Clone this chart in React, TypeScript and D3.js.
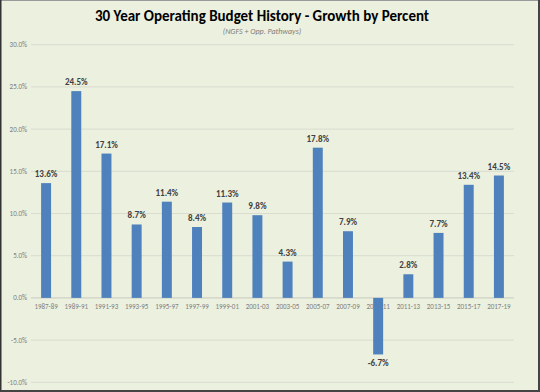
import React from "react";
import * as d3 from "d3";

const categories = ["1987-89","1989-91","1991-93","1993-95","1995-97","1997-99","1999-01","2001-03","2003-05","2005-07","2007-09","2009-11","2011-13","2013-15","2015-17","2017-19"];
const values = [13.6, 24.5, 17.1, 8.7, 11.4, 8.4, 11.3, 9.8, 4.3, 17.8, 7.9, -6.7, 2.8, 7.7, 13.4, 14.5];
const yTicks = [30, 25, 20, 15, 10, 5, 0, -5, -10];
const title = "30 Year Operating Budget History - Growth by Percent";
const subtitle = "(NGFS + Opp. Pathways)";

export default function App() {
  const W = 540, H = 392;
  const left = 31, right = 514, top = 44.7, bottom = 382.3;
  const x = d3.scaleBand<string>().domain(categories).range([left, right]).paddingInner(0.67).paddingOuter(0.335);
  const y = d3.scaleLinear().domain([-10, 30]).range([bottom, top]);
  const font = "Carlito, 'Liberation Sans', Arial, sans-serif";
  return (
    <svg width={W} height={H} style={{ position: "absolute", left: 0, top: 0 }}>
      <rect x={0} y={0} width={W} height={H} fill="#ebf0df" />
      <rect x={0.5} y={0.5} width={W - 1.5} height={H - 1.5} fill="none" stroke="#9a9a9a" strokeWidth={1} />
      <line x1={0.75} x2={0.75} y1={0} y2={H} stroke="#333" strokeWidth={1.5} />
      <line x1={W - 1} x2={W - 1} y1={0} y2={H} stroke="#444" strokeWidth={2} />
      <line x1={0} x2={W} y1={H - 1} y2={H - 1} stroke="#444" strokeWidth={2} />
      {yTicks.map((t) => (
        <g key={t}>
          <line x1={left} x2={right} y1={y(t)} y2={y(t)} stroke="#d9dccf" strokeWidth={1} />
          <text x={27} y={y(t)} dy="0.35em" textAnchor="end" fontSize={7} fill="#808080" fontFamily={font}>
            {t.toFixed(1) + "%"}
          </text>
        </g>
      ))}
      <line x1={left} x2={right} y1={y(0)} y2={y(0)} stroke="#d0d3c6" strokeWidth={1} />
      {categories.map((c) => (
        <text key={"l" + c} x={x(c)! + x.bandwidth() / 2} y={y(0) + 9} dy="0.35em" textAnchor="middle" fontSize={7} fill="#808080" fontFamily={font}>
          {c}
        </text>
      ))}
      {categories.map((c, i) => {
        const v = values[i];
        const bx = x(c)!;
        const y0 = y(0), y1 = y(v);
        return (
          <g key={c}>
            <rect x={bx} y={Math.min(y0, y1)} width={x.bandwidth()} height={Math.abs(y1 - y0)} fill="#4f81bd" />
            <text x={bx + x.bandwidth() / 2} y={v >= 0 ? y1 - 6 : y1 + 12} textAnchor="middle" fontSize={9} fontWeight="bold" fill="#404040" fontFamily={font}>
              {v.toFixed(1) + "%"}
            </text>
          </g>
        );
      })}
      <text x={262} y={21} textAnchor="middle" fontSize={15} fontWeight="bold" fill="#000" fontFamily={font}>{title}</text>
      <text x={262} y={33.5} textAnchor="middle" fontSize={8} fontStyle="italic" fill="#808080" fontFamily={font}>{subtitle}</text>
    </svg>
  );
}
